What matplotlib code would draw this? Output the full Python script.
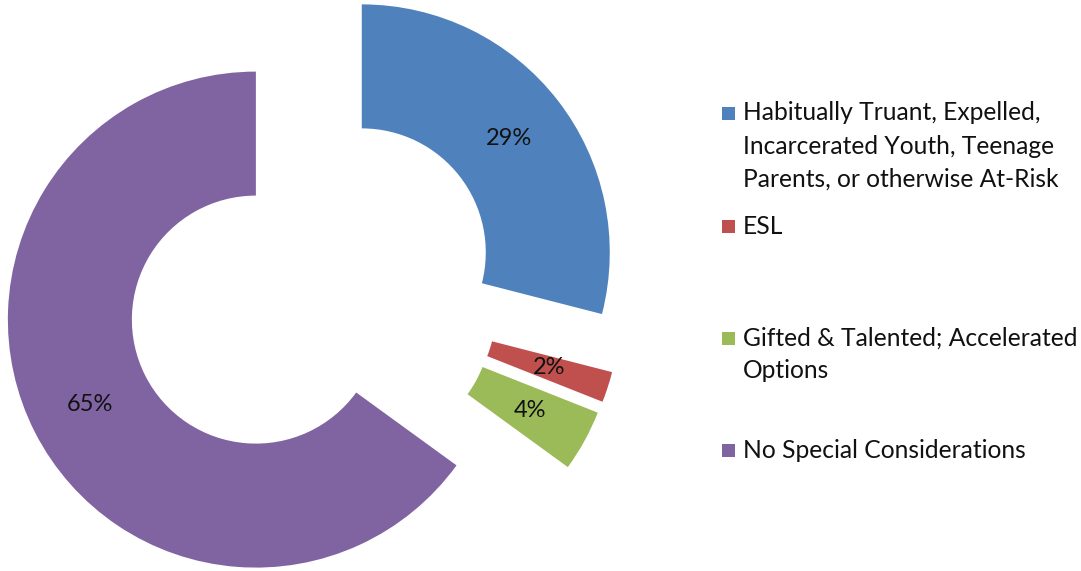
import matplotlib.pyplot as plt
from matplotlib.patches import Rectangle

categories = [
    "Habitually Truant, Expelled,\nIncarcerated Youth, Teenage\nParents, or otherwise At-Risk",
    "ESL",
    "Gifted & Talented; Accelerated\nOptions",
    "No Special Considerations",
]
shares = [29, 2, 4, 65]
colors = ["#4F81BD", "#C0504D", "#9BBB59", "#8064A2"]

plt.rcParams['font.family'] = ['Lato', 'DejaVu Sans']

W, H = 1081, 571
fig = plt.figure(figsize=(W / 100, H / 100), dpi=100)
ax = fig.add_axes([0, 0, 1, 1])

wedges, texts, autotexts = ax.pie(
    shares, colors=colors, explode=[0.254] * len(shares),
    startangle=90, counterclock=False, radius=1,
    wedgeprops=dict(width=0.5, linewidth=0),
    autopct='%1.0f%%', pctdistance=0.75,
    textprops=dict(fontsize=17, color='#111111'))

# donut centre sits at (312, 291) px, radius 248 px
r_px = 248.0
cx, cy = 312, H - 291
ax.set_xlim(-cx / r_px, (W - cx) / r_px)
ax.set_ylim(-cy / r_px, (H - cy) / r_px)
ax.set_aspect('auto')
ax.axis('off')

# legend, drawn by hand so entries spread out evenly
entry_tops = [113, 226, 338, 450]
line_gap = 33
for lab, col, y0 in zip(categories, colors, entry_tops):
    fig.patches.append(Rectangle((722 / W, 1 - (y0 + 6.5) / H), 13 / W, 13 / H,
                                 transform=fig.transFigure, facecolor=col,
                                 edgecolor='none'))
    for i, line in enumerate(lab.split('\n')):
        fig.text(743 / W, 1 - (y0 + i * line_gap) / H, line, fontsize=17.7,
                 color='#111111', va='center', ha='left')

fig.savefig('out.png', dpi=100, facecolor='white')
